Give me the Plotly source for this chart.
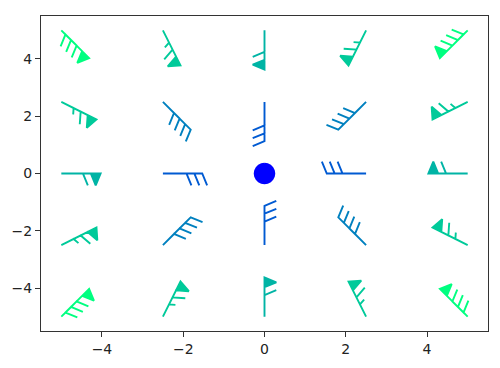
import math
import plotly.graph_objects as go

# ---- data ----
x_grid = [-5.0, -2.5, 0.0, 2.5, 5.0]
y_grid = [-5.0, -2.5, 0.0, 2.5, 5.0]
# U and V components on the grid (rows follow y_grid, columns follow x_grid)
U = [
    [-60, -30, 0, 30, 60],
    [-60, -30, 0, 30, 60],
    [-60, -30, 0, 30, 60],
    [-60, -30, 0, 30, 60],
    [-60, -30, 0, 30, 60],
]
V = [
    [-60, -60, -60, -60, -60],
    [-30, -30, -30, -30, -30],
    [0, 0, 0, 0, 0],
    [30, 30, 30, 30, 30],
    [60, 60, 60, 60, 60],
]
x_ticks = [-4, -2, 0, 2, 4]
y_ticks = [-4, -2, 0, 2, 4]
tick_text = lambda vals: [("\u2212" + str(abs(v))) if v < 0 else str(v) for v in vals]

# ---- layout geometry ----
W, H = 500, 368
ML, MR, MT, MB = 34, 11, 16, 31
XR = [-5.5, 5.5]
YR = [-5.5, 5.5]
px_x = (W - ML - MR) / (XR[1] - XR[0])
px_y = (H - MT - MB) / (YR[1] - YR[0])

# barb sizes (pixels) like matplotlib sizes=dict(emptybarb=0.25, spacing=0.2, height=0.3)
length = 40.0
spacing = length * 0.2
full_height = length * 0.3
full_width = length * 0.25
empty_rad = length * 0.25
HALF, FULL, FLAG = 5, 10, 50


def winter(t):
    t = max(0.0, min(1.0, t))
    return "rgb(0,%d,%d)" % (round(255 * t), round(255 * (1 - 0.5 * t)))


mags = [[math.hypot(U[i][j], V[i][j]) for j in range(5)] for i in range(5)]
cmin = min(min(r) for r in mags)
cmax = max(max(r) for r in mags)

fig = go.Figure()

for i, yv in enumerate(y_grid):
    for j, xv in enumerate(x_grid):
        u, v = U[i][j], V[i][j]
        mag = mags[i][j]
        color = winter((mag - cmin) / (cmax - cmin))
        n_flags, rem = divmod(mag, FLAG)
        n_barb, rem = divmod(rem, FULL)
        n_flags, n_barb = int(n_flags), int(n_barb)
        half = rem >= HALF
        empty = not (half or n_flags > 0 or n_barb > 0)
        if empty:
            verts = [(empty_rad * math.cos(2 * math.pi * k / 20 + math.pi / 2),
                      empty_rad * math.sin(2 * math.pi * k / 20 + math.pi / 2)) for k in range(20)]
        else:
            verts = [(0.0, 0.0)]
            offset = length
            for _ in range(n_flags):
                if offset != length:
                    offset += spacing / 2.0
                verts += [(0.0, offset), (full_height, offset - full_width / 2), (0.0, offset - full_width)]
                offset -= full_width + spacing
            for _ in range(n_barb):
                verts += [(0.0, offset), (full_height, offset + full_width / 2), (0.0, offset)]
                offset -= spacing
            if half:
                if offset == length:
                    verts.append((0.0, offset))
                    offset -= 1.5 * spacing
                verts += [(0.0, offset), (full_height / 2, offset + full_width / 4), (0.0, offset)]
            th = math.atan2(v, u) + math.pi / 2
            c, s = math.cos(th), math.sin(th)
            verts = [(px * c - py * s, px * s + py * c) for px, py in verts]
        xs = [xv + a / px_x for a, b in verts]
        ys = [yv + b / px_y for a, b in verts]
        xs.append(xs[0])
        ys.append(ys[0])
        fig.add_trace(go.Scatter(
            x=xs, y=ys, mode="lines", fill="toself", fillcolor=color,
            line=dict(color=color, width=1.9), hoverinfo="skip", showlegend=False,
        ))

axis_common = dict(
    showgrid=False, zeroline=False, showline=True, mirror=True,
    linecolor="#333", linewidth=1.3, ticks="outside", ticklen=5,
    tickwidth=1.3, tickcolor="#333",
    tickfont=dict(family="DejaVu Sans", size=14, color="#222"),
)
fig.update_layout(
    width=W, height=H,
    margin=dict(l=ML, r=MR, t=MT, b=MB),
    paper_bgcolor="white", plot_bgcolor="white",
    xaxis=dict(range=XR, tickvals=x_ticks, ticktext=tick_text(x_ticks), **axis_common),
    yaxis=dict(range=YR, tickvals=y_ticks, ticktext=tick_text(y_ticks), **axis_common),
)
fig.write_html("out.html")
